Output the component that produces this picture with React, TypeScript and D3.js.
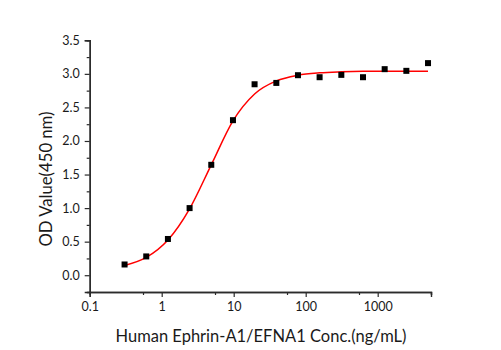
import React, { useEffect, useRef } from 'react';
import * as d3 from 'd3';

// concentrations (ng/mL), 2-fold dilution from 5000
const conc = [0.305, 0.61, 1.22, 2.44, 4.88, 9.77, 19.5, 39.1, 78.1, 156, 312.5, 625, 1250, 2500, 5000];
const odValues = [0.16, 0.28, 0.54, 1.0, 1.645, 2.31, 2.845, 2.865, 2.98, 2.95, 2.985, 2.95, 3.07, 3.045, 3.16];

// fitted curve
const fitConc = [0.305, 0.61, 1.22, 2.44, 4.88, 9.77, 19.5, 39.1, 78.1, 156, 312.5, 625, 1250, 2500, 5000];
const fitOd = [0.145, 0.265, 0.525, 0.99, 1.645, 2.3, 2.7, 2.895, 2.98, 3.015, 3.03, 3.038, 3.04, 3.04, 3.04];

const xMajorTicks = [0.1, 1, 10, 100, 1000];
const xMinorTicks = [0.55, 5.5, 55, 550, 5500];
const yMajorTicks = [0, 0.5, 1.0, 1.5, 2.0, 2.5, 3.0, 3.5];
const yMinorTicks = [-0.25, 0.25, 0.75, 1.25, 1.75, 2.25, 2.75, 3.25];

const xTitle = 'Human Ephrin-A1/EFNA1 Conc.(ng/mL)';
const yTitle = 'OD Value(450 nm)';

export default function App() {
  const ref = useRef<SVGSVGElement>(null);

  useEffect(() => {
    const width = 501;
    const height = 350;
    const left = 89.7;
    const right = 431;
    const top = 40.3;
    const bottom = 292;

    const svg = d3.select(ref.current);
    svg.selectAll('*').remove();

    const x = d3.scaleLog().domain([0.1, 5500]).range([left, right]);
    const y = d3.scaleLinear().domain([-0.25, 3.5]).range([bottom, top]);

    const font = 'Lato, "Open Sans", sans-serif';
    const axisColor = '#2b2b2b';

    // x axis
    const gx = svg.append('g').attr('transform', 'translate(0,' + bottom + ')');
    gx.call(
      d3.axisBottom(x)
        .tickValues(xMajorTicks)
        .tickSize(5)
        .tickPadding(5)
        .tickFormat((d: any) => String(d))
    );
    gx.append('g').call(
      d3.axisBottom(x).tickValues(xMinorTicks).tickSize(3).tickFormat(() => '')
    );

    // y axis
    const gy = svg.append('g').attr('transform', 'translate(' + left + ',0)');
    gy.call(
      d3.axisLeft(y)
        .tickValues(yMajorTicks)
        .tickSize(5)
        .tickPadding(5)
        .tickFormat(d3.format('.1f') as any)
    );
    gy.append('g').call(
      d3.axisLeft(y).tickValues(yMinorTicks).tickSize(3).tickFormat(() => '')
    );

    svg.selectAll('.domain')
      .attr('stroke', axisColor)
      .attr('stroke-width', 1.4);
    svg.selectAll('.tick line')
      .attr('stroke', axisColor)
      .attr('stroke-width', 1.2);
    svg.selectAll('.tick text')
      .attr('font-family', font)
      .attr('font-size', 12.5)
      .attr('fill', '#1a1a1a');

    // fitted curve
    const fit = fitConc.map((c, i) => [c, fitOd[i]] as [number, number]);
    const line = d3.line<[number, number]>()
      .x(d => x(d[0]))
      .y(d => y(d[1]))
      .curve(d3.curveMonotoneX);
    svg.append('path')
      .datum(fit)
      .attr('d', line)
      .attr('fill', 'none')
      .attr('stroke', '#ff0000')
      .attr('stroke-width', 1.5);

    // data points
    const size = 6;
    svg.append('g')
      .selectAll('rect')
      .data(conc.map((c, i) => [c, odValues[i]]))
      .enter()
      .append('rect')
      .attr('x', d => x(d[0]) - size / 2)
      .attr('y', d => y(d[1]) - size / 2)
      .attr('width', size)
      .attr('height', size)
      .attr('fill', '#000');

    // titles
    svg.append('text')
      .attr('x', 261)
      .attr('y', 341.5)
      .attr('text-anchor', 'middle')
      .attr('font-family', font)
      .attr('font-size', 18)
      .attr('textLength', 291)
      .attr('lengthAdjust', 'spacingAndGlyphs')
      .attr('fill', '#1a1a1a')
      .text(xTitle);

    svg.append('text')
      .attr('transform', 'translate(52,179) rotate(-90)')
      .attr('text-anchor', 'middle')
      .attr('font-family', font)
      .attr('font-size', 18)
      .attr('textLength', 135)
      .attr('lengthAdjust', 'spacingAndGlyphs')
      .attr('fill', '#1a1a1a')
      .text(yTitle);

    svg.attr('width', width).attr('height', height);
  }, []);

  return (
    <svg
      ref={ref}
      width={501}
      height={350}
      style={{ position: 'absolute', left: 0, top: 0, background: '#fff' }}
    />
  );
}
